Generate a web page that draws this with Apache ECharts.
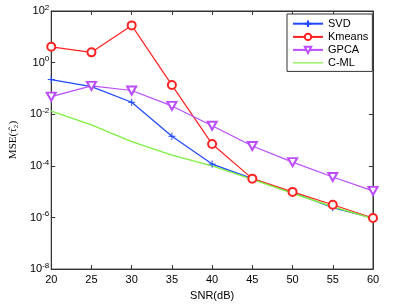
<!DOCTYPE html>
<html><head><meta charset="utf-8">
<script src="https://cdn.jsdelivr.net/npm/echarts@6/dist/echarts.min.js"></script>
<style>html,body{margin:0;padding:0;background:#fff}#c{width:399px;height:306px}</style>
</head><body><div id="c"></div>
<script>
const snr = [20, 25, 30, 35, 40, 45, 50, 55, 60];
const svd = [0.22, 0.118, 0.029, 1.4e-3, 1.17e-4, 3.2e-5, 9.3e-6, 2.4e-6, 9.5e-7];
const kmeans = [4.1, 2.5, 27.7, 0.135, 7e-4, 3.2e-5, 9.8e-6, 3.1e-6, 9.5e-7];
const gpca = [0.048, 0.125, 0.083, 0.021, 3.6e-3, 5.9e-4, 1.4e-4, 3.7e-5, 1.07e-5];
const cml = [0.0133, 3.9e-3, 8.7e-4, 2.6e-4, 1e-4, 3e-5, 8.7e-6, 2.6e-6, 9e-7];
const names = ['SVD', 'Kmeans', 'GPCA', 'C-ML'];

const pair = arr => snr.map((x, i) => [x, arr[i]]);
const FONT = 'Liberation Sans';
const AX = '#333';
const C_BLUE = '#1f48ff', C_RED = '#ff2222', C_PUR = '#bb4dff', C_GRN = '#80f040';

const chart = echarts.init(document.getElementById('c'), null, {renderer: 'canvas'});
const tickStyle = {show: true, inside: true, length: 4, lineStyle: {color: AX}};
chart.setOption({
  animation: false,
  backgroundColor: '#fff',
  grid: {left: 37, right: 26, top: 11, bottom: 31, show: true, borderColor: AX, borderWidth: 1},
  legend: {
    left: 287, top: 14, orient: 'vertical',
    data: ['SVD', 'Kmeans', 'GPCA',
      {name: 'C-ML', icon: 'path://M0,0L40,0L40,1.6L0,1.6Z', itemStyle: {color: C_GRN}}],
    backgroundColor: '#fff', borderColor: AX, borderWidth: 1,
    padding: [4, 4, 3, 5], itemWidth: 30, itemHeight: 8, itemGap: 2,
    textStyle: {fontFamily: FONT, fontSize: 11, color: '#000'}
  },
  xAxis: [{
    type: 'value', min: 20, max: 60, interval: 5,
    name: 'SNR(dB)', nameLocation: 'middle', nameGap: 18,
    nameTextStyle: {fontFamily: FONT, fontSize: 11, color: '#000'},
    axisLine: {show: true, lineStyle: {color: AX}},
    axisTick: tickStyle, splitLine: {show: false},
    axisLabel: {fontFamily: FONT, fontSize: 11, color: '#000', margin: 5}
  }, {
    type: 'value', min: 20, max: 60, interval: 5, position: 'top',
    axisLine: {show: true, lineStyle: {color: AX}},
    axisTick: tickStyle, axisLabel: {show: false}, splitLine: {show: false}
  }],
  yAxis: [{
    type: 'log', logBase: 10, min: 1e-8, max: 1e2, interval: 2,
    name: 'MSE(τ\u0302\u2082)', nameLocation: 'middle', nameGap: 28,
    nameTextStyle: {fontFamily: 'Liberation Serif', fontSize: 11, color: '#000'},
    axisLine: {show: true, lineStyle: {color: AX}},
    axisTick: tickStyle, splitLine: {show: false},
    axisLabel: {
      margin: 2,
      formatter: v => '{b|10}{s|' + Math.round(Math.log10(v)) + '}',
      rich: {
        b: {fontFamily: FONT, fontSize: 11, color: '#000'},
        s: {fontFamily: FONT, fontSize: 8, color: '#000', verticalAlign: 'top', padding: [0, 0, 7, 0]}
      }
    }
  }, {
    type: 'log', logBase: 10, min: 1e-8, max: 1e2, interval: 2, position: 'right',
    axisLine: {show: true, lineStyle: {color: AX}},
    axisTick: tickStyle, axisLabel: {show: false}, splitLine: {show: false}
  }],
  series: [
    {name: 'SVD', type: 'line', data: pair(svd), color: C_BLUE,
     lineStyle: {width: 1.2, color: C_BLUE},
     symbol: 'path://M0,5L10,5M5,0L5,10', symbolSize: 7,
     itemStyle: {color: 'none', borderColor: C_BLUE, borderWidth: 1}},
    {name: 'Kmeans', type: 'line', data: pair(kmeans), color: C_RED,
     lineStyle: {width: 1.2, color: C_RED},
     symbol: 'emptyCircle', symbolSize: 8,
     itemStyle: {color: C_RED, borderColor: C_RED, borderWidth: 1}},
    {name: 'GPCA', type: 'line', data: pair(gpca), color: C_PUR,
     lineStyle: {width: 1.2, color: C_PUR},
     symbol: 'emptyTriangle', symbolSize: [9, 8], symbolRotate: 180,
     itemStyle: {color: C_PUR, borderColor: C_PUR, borderWidth: 1}},
    {name: 'C-ML', type: 'line', data: pair(cml), color: C_GRN,
     lineStyle: {width: 1.4, color: C_GRN},
     showSymbol: false, symbol: 'none'}
  ]
});
</script></body></html>
